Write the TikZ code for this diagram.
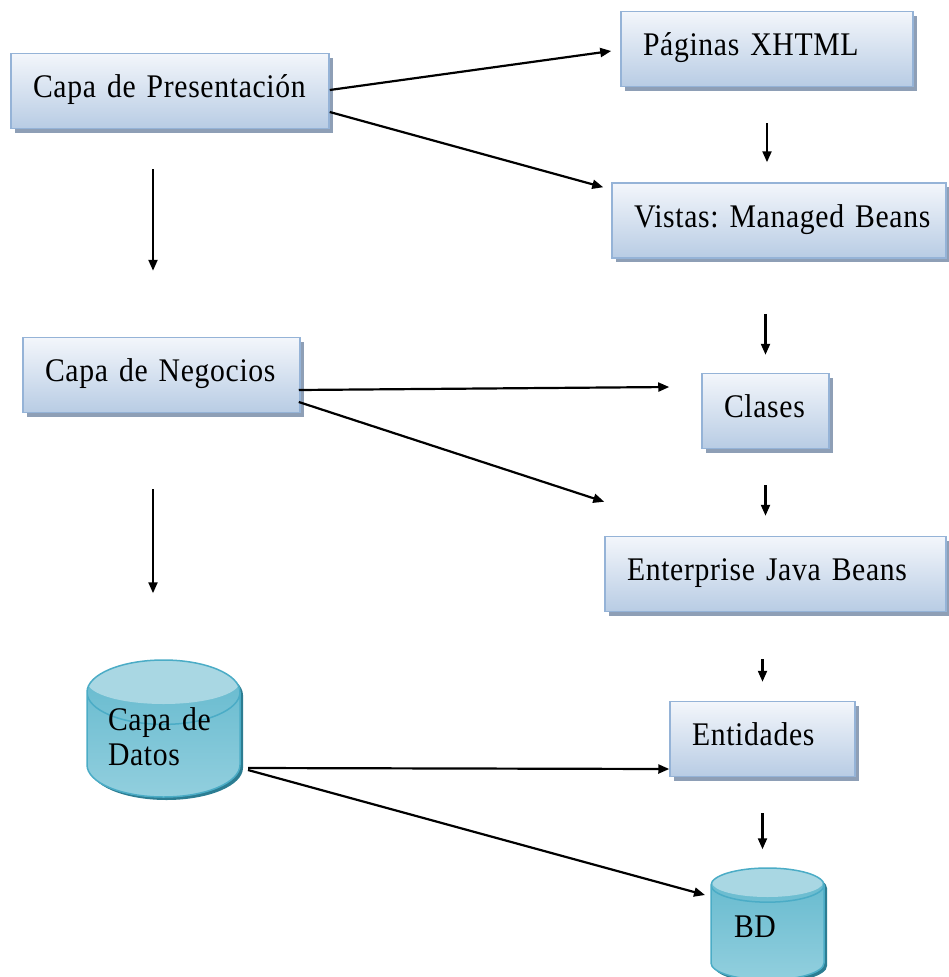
\documentclass[tikz,border=0pt]{standalone}
\usepackage{fontspec}
\setmainfont{Liberation Serif}[FakeStretch=0.9, LetterSpace=2]
\frenchspacing
\usetikzlibrary{arrows.meta,positioning,shapes,shapes.geometric,shadows}
\usepackage{xcolor}

\definecolor{boxtop}{HTML}{F3F6FB}
\definecolor{boxbot}{HTML}{B8CCE4}
\definecolor{boxline}{HTML}{95B3D7}
\definecolor{boxshadow}{HTML}{8E9FB6}
\definecolor{dbtop}{HTML}{62B8CD}
\definecolor{dbmid}{HTML}{4BAAC3}
\definecolor{dbbot}{HTML}{92CFDE}
\definecolor{dbend}{HTML}{A9D7E3}
\definecolor{dbline}{HTML}{4BACC6}
\definecolor{dbshadow}{HTML}{2C7D92}

\tikzset{
    capa/.style={
        rectangle,
        draw=boxline,
        line width=1.5pt,
        top color=boxtop,
        bottom color=boxbot,
        inner xsep=0pt,
        inner ysep=0pt,
        text width=#1,
        align=left,
        minimum height=75pt,
        text height=26pt,
        text depth=13pt,
        execute at begin node={\hspace*{22pt}},
        drop shadow={shadow xshift=4pt, shadow yshift=-4pt, fill=boxshadow, opacity=1}
    },
    datos/.style n args={4}{
        cylinder,
        shape border rotate=90,
        aspect=#1,
        minimum width=#2,
        draw=dbline,
        line width=1.5pt,
        top color=dbtop,
        middle color=dbmid,
        bottom color=dbbot,
        inner sep=0pt,
        align=left,
        anchor=shape center,
        path picture={
            \fill[dbend] ([yshift=-#4]path picture bounding box.north) ellipse [x radius=#3, y radius=#4];
        },
        drop shadow={shadow xshift=3pt, shadow yshift=-3pt, fill=dbshadow, opacity=1}
    },
    flecha/.style={-{Triangle[length=11pt, width=9pt]}, line width=2.2pt, black}
}

\begin{document}
\begin{tikzpicture}[x=1pt, y=-1pt, every node/.style={font=\fontsize{33}{35}\selectfont}]
    \useasboundingbox (0,0) rectangle (948,977);

    \node (presentacion) [capa=318pt, shift={(170, 91)}]
    {
        Capa de Presentación
    };

    \node (negocios) [capa=277pt, shift={(161.5, 375)}]
    {
        Capa de Negocios
    };

    \node (capadatos) [datos={0.58}{153pt}{76pt}{22pt}, minimum height=137pt, text width=111pt, text height=0pt, text depth=28pt, shift={(163.5, 728.5)}]
    {
        Capa de\\Datos
    };


    \node (paginas) [capa=292pt, shift={(767, 49)}]
    {
        Páginas XHTML
    };

    \node (vistas) [capa=334pt, shift={(779, 220.5)}]
    {
        Vistas: Managed Beans
    };

    \node (clases) [capa=127pt, shift={(765.5, 411)}]
    {
        Clases
    };

    \node (ejb) [capa=341pt, shift={(775.5, 574)}]
    {
        Enterprise Java Beans
    };

    \node (entidades) [capa=185pt, shift={(762.5, 739)}]
    {
        Entidades
    };

    \node (bd) [datos={0.51}{113pt}{55.5pt}{14.5pt}, minimum height=112pt, text width=67pt, text height=15pt, text depth=5pt, shift={(767.5, 924)}]
    {
        BD
    };

    % capas
    \draw[flecha, shorten <=40pt, shorten >=66pt] ([xshift=-8.5pt]negocios.north |- presentacion.south) to ([xshift=-8.5pt]negocios.north);
    \draw[flecha, shorten <=76pt, shorten >=66pt] ([xshift=-8.5pt]negocios.south) to ([xshift=-8.5pt]negocios.south |- capadatos.north);

    % componentes
    \draw[flecha] ([yshift=1pt]presentacion.east) to ([xshift=-9pt, yshift=-2pt]paginas.west);
    \draw[flecha] ([yshift=-21pt]presentacion.east) to ([xshift=-8pt, yshift=-5pt]vistas.north west);
    \draw[flecha] ([xshift=-2pt, yshift=-15pt]negocios.east) to ([xshift=-32pt, yshift=24pt]clases.west);
    \draw[flecha] ([xshift=-2pt, yshift=-27pt]negocios.east) to ([yshift=34pt]ejb.north west);
    \draw[flecha] ([xshift=84.5pt, yshift=-39.5pt]capadatos.shape center) to ([yshift=-30pt]entidades.west);
    \draw[flecha] ([xshift=84.5pt, yshift=-41.5pt]capadatos.shape center) to ([xshift=-62.5pt, yshift=29pt]bd.shape center);

    \draw[flecha, shorten <=36pt, shorten >=20pt] (paginas.south) to (paginas.south |- vistas.north);
    \draw[flecha, shorten <=55pt, shorten >=18pt] (clases.north |- vistas.south) to (clases.north);
    \draw[flecha, shorten <=36pt, shorten >=20pt] (clases.south) to (clases.south |- ejb.north);
    \draw[flecha, shorten <=47pt, shorten >=19pt] (entidades.north |- ejb.south) to (entidades.north);
    \draw[flecha, shorten <=36pt, shorten >=18pt] (entidades.south) to (entidades.south |- bd.north);


\end{tikzpicture}
\end{document}
